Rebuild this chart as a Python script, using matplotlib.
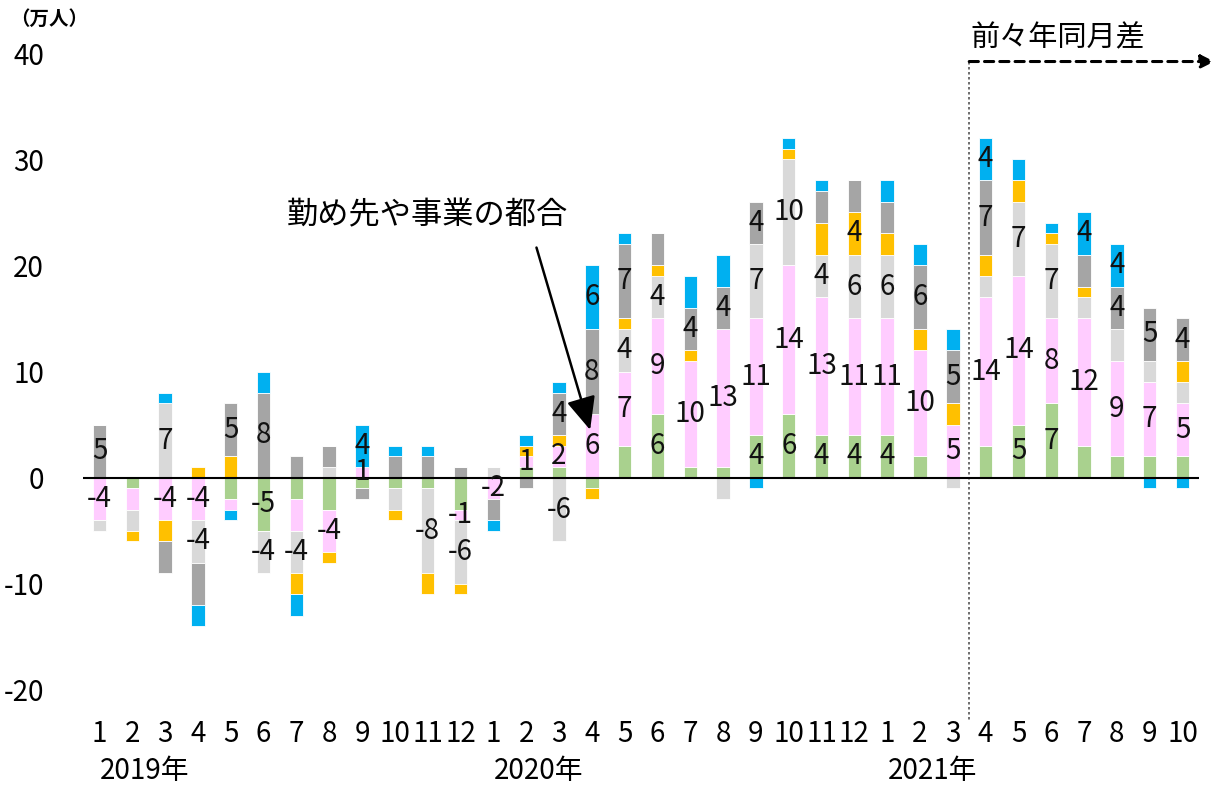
import numpy as np
import matplotlib
matplotlib.use("Agg")
import matplotlib.pyplot as plt

plt.rcParams['font.family'] = ['Noto Sans CJK JP', 'DejaVu Sans']

# Months: 2019/1 .. 2021/10
months = [1, 2, 3, 4, 5, 6, 7, 8, 9, 10, 11, 12,
          1, 2, 3, 4, 5, 6, 7, 8, 9, 10, 11, 12,
          1, 2, 3, 4, 5, 6, 7, 8, 9, 10]
years = ["2019年", "2020年", "2021年"]
year_start = [0, 12, 24]

# Series values (万人), stacked in this order
green = [0, -1, 0, 0, -2, -5, -2, -3, -1, -1, -1, -3,
         0, 1, 1, -1, 3, 6, 1, 1, 4, 6, 4, 4,
         4, 2, 0, 3, 5, 7, 3, 2, 2, 2]
pink = [-4, -2, -4, -4, -1, 0, -3, -4, 1, 0, 0, -1,
        -2, 1, 2, 6, 7, 9, 10, 13, 11, 14, 13, 11,
        11, 10, 5, 14, 14, 8, 12, 9, 7, 5]
light_gray = [-1, -2, 7, -4, 0, -4, -4, 1, 0, -2, -8, -6,
              1, 0, -6, 0, 4, 4, 0, -2, 7, 10, 4, 6,
              6, 0, -1, 2, 7, 7, 2, 3, 2, 2]
orange = [0, -1, -2, 1, 2, 0, -2, -1, 0, -1, -2, -1,
          0, 1, 1, -1, 1, 1, 1, 0, 0, 1, 3, 4,
          2, 2, 2, 2, 2, 1, 1, 0, 0, 2]
dark_gray = [5, 0, -3, -4, 5, 8, 2, 2, -1, 2, 2, 1,
             -2, -1, 4, 8, 7, 3, 4, 4, 4, 0, 3, 3,
             3, 6, 5, 7, 0, 0, 3, 4, 5, 4]
blue = [0, 0, 1, -2, -1, 2, -2, 0, 4, 1, 1, 0,
        -1, 1, 1, 6, 1, 0, 3, 3, -1, 1, 1, 0,
        2, 2, 2, 4, 2, 1, 4, 4, -1, -1]

series = [green, pink, light_gray, orange, dark_gray, blue]
colors = ["#A9D18E", "#FFCCFF", "#D9D9D9", "#FFC000", "#A5A5A5", "#00B0F0"]

# pink values shown even when small, and one label left out
pink_small_labeled = [8, 11, 12, 13, 14]
hidden_labels = [(3, 4)]

fig = plt.figure(figsize=(12.16, 7.88), dpi=100)
ax = fig.add_axes([0.0683, 0.1244, 0.9177, 0.8083])

x = np.arange(len(months))
pos_base = np.zeros(len(months))
neg_base = np.zeros(len(months))
for s_idx, (vals, col) in enumerate(zip(series, colors)):
    vals = np.array(vals, dtype=float)
    base = np.where(vals >= 0, pos_base, neg_base)
    ax.bar(x, vals, bottom=base, width=0.41, color=col,
           edgecolor="white", linewidth=0.6, zorder=2)
    for i, v in enumerate(vals):
        show = abs(v) >= 4 or (s_idx == 1 and i in pink_small_labeled)
        if (i, s_idx) in hidden_labels or v == 0:
            show = False
        if show:
            ax.text(i, base[i] + v / 2, f"{int(v)}", ha="center", va="center",
                    fontsize=20, color="#111111", zorder=4)
    pos_base += np.where(vals >= 0, vals, 0)
    neg_base += np.where(vals < 0, vals, 0)

ax.axhline(0, color="black", linewidth=1.5, zorder=3)

ax.set_xlim(-0.5, 33.5)
ax.set_ylim(-20, 40)
ax.set_yticks([-20, -10, 0, 10, 20, 30, 40])
ax.set_yticklabels(["-20", "-10", "0", "10", "20", "30", "40"], fontsize=20)
ax.set_xticks(x)
ax.set_xticklabels([str(m) for m in months], fontsize=20)
ax.tick_params(axis="both", length=0)
ax.tick_params(axis="y", pad=28)
ax.tick_params(axis="x", pad=21)
for sp in ax.spines.values():
    sp.set_visible(False)

# year labels
for yr, st in zip(years, year_start):
    ax.text(st + 0.02, -27.6, yr, ha="left", va="center", fontsize=20,
            clip_on=False)

fig.text(0.008, 0.975, "（万人）", fontsize=14, fontweight="bold",
         ha="left", va="center")

# vertical divider and arrow
ax.plot([26.5, 26.5], [39.2, -22.8], color="#555555", linestyle=(0, (1.5, 1.5)),
        linewidth=1.2, clip_on=False, zorder=1)
ax.annotate("", xy=(33.97, 39.2), xytext=(26.5, 39.2),
            arrowprops=dict(arrowstyle="-|>,head_length=0.8,head_width=0.4",
                            linestyle=(0, (3, 2)), color="black", lw=2.2,
                            shrinkA=0, shrinkB=0),
            annotation_clip=False)
ax.text(29.2, 41.4, "前々年同月差", ha="center", va="center", fontsize=21,
        clip_on=False)

# annotation arrow
ax.annotate("勤め先や事業の都合", xy=(14.95, 4.5), xytext=(10.0, 24.7),
            ha="center", va="center", fontsize=22.5,
            arrowprops=dict(arrowstyle="-|>,head_length=0.9,head_width=0.4",
                            color="black", lw=1.8, shrinkA=10, shrinkB=0,
                            relpos=(0.87, 0.0)))

fig.savefig("out.png", dpi=100)
